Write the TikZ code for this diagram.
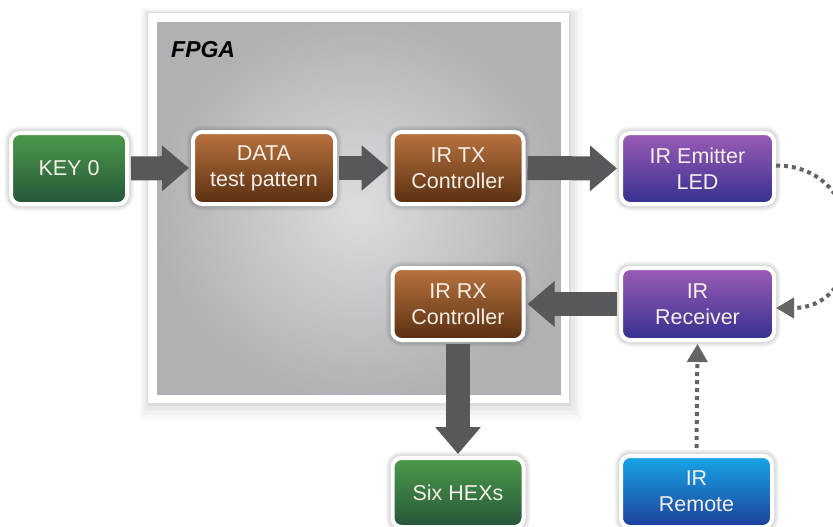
\documentclass[tikz,border=0pt]{standalone}
\usepackage{fontspec}
\setmainfont{Liberation Sans}
\usetikzlibrary{arrows.meta}

\definecolor{grntop}{HTML}{4C9A4A}
\definecolor{grnbot}{HTML}{26563A}
\definecolor{brntop}{HTML}{BA743F}
\definecolor{brnbot}{HTML}{582E10}
\definecolor{purtop}{HTML}{9C5CB6}
\definecolor{purmid}{HTML}{6A2C9C}
\definecolor{purbot}{HTML}{35308F}
\definecolor{blutop}{HTML}{18A6E6}
\definecolor{blubot}{HTML}{1C3F9C}
\definecolor{boxtext}{HTML}{F4EFE8}
\definecolor{arrgray}{HTML}{58585A}
\definecolor{dotgray}{HTML}{646464}
\definecolor{fpgain}{HTML}{DDDCDE}
\definecolor{fpgaout}{HTML}{B1B0B5}

\begin{document}
\begin{tikzpicture}[x=1pt,y=-1pt,
  halo/.style={preaction={draw=black,opacity=#1,line width=13pt},
    preaction={draw=black,opacity=#1,line width=9.5pt},
    preaction={draw=black,opacity=#1,line width=6.5pt}},
  blk/.style={draw=white,line width=4pt,rounded corners=9pt,inner sep=0pt,
    align=center,text=boxtext,font=\fontsize{21.5}{26}\selectfont,halo=.05},
  grn/.style={blk,top color=grntop,bottom color=grnbot},
  brn/.style={blk,top color=brntop,bottom color=brnbot},
  pur/.style={blk,top color=purtop,middle color=purmid,bottom color=purbot},
  blu/.style={blk,top color=blutop,bottom color=blubot},
  fat/.style={draw=arrgray,line width=24pt,-{Triangle[width=44pt,length=27pt]},
    shorten <=2pt,shorten >=2pt},
  dots/.style={draw=dotgray,line width=4pt,dash pattern=on 4pt off 4pt,
    -{Triangle[width=20pt,length=18pt]}}]
  \useasboundingbox (0,0) rectangle (833,527);

  % FPGA frame
  \node[draw=white,line width=8.5pt,inner sep=0pt,shading=radial,
    inner color=fpgain,outer color=fpgaout,
    minimum width=412.5pt,minimum height=381.5pt,
    preaction={draw=black,opacity=.025,line width=30pt,transform canvas={xshift=2pt,yshift=-6pt}},
    preaction={draw=black,opacity=.03,line width=23pt,transform canvas={xshift=1.5pt,yshift=-4pt}},
    preaction={draw=black,opacity=.04,line width=17pt,transform canvas={xshift=1pt,yshift=-2.5pt}},
    preaction={draw=black,opacity=.05,line width=12pt,transform canvas={yshift=-1pt}}] (fpga) at (358.75,208.25) {};
  \node[anchor=base west,inner sep=0pt,font=\bfseries\itshape\fontsize{23}{27}\selectfont] (lbl) at (171,58) {FPGA};

  % blocks
  \node[grn,minimum width=116pt,minimum height=71pt] (key) at (69,168.5) {KEY 0};
  \node[brn,minimum width=142pt,minimum height=72pt] (data) at (264,168) {DATA\\test pattern};
  \node[brn,minimum width=131pt,minimum height=72pt] (tx) at (458,168) {IR TX\\Controller};
  \node[pur,minimum width=153pt,minimum height=71pt] (led) at (697.5,168.5) {IR Emitter\\LED};
  \node[pur,minimum width=153pt,minimum height=72pt] (rcv) at (697.5,304) {IR\\Receiver};
  \node[brn,minimum width=131pt,minimum height=72pt] (rx) at (458,304) {IR RX\\Controller};
  \node[grn,minimum width=131pt,minimum height=69pt] (hex) at (458,492.5) {Six HEXs};
  \node[blu,minimum width=151pt,minimum height=71pt] (remote) at (696.5,491.5) {IR\\Remote};

  % data paths
  \draw[fat] (key.east) -- (data.west);
  \draw[fat] (data.east) -- (tx.west);
  \draw[fat] (tx.east) -- (led.west);
  \draw[fat] (rcv.west) -- (rx.east);
  \draw[fat] (rx.south) -- (hex.north);

  % infrared link
  \draw[dots] ([yshift=3pt]led.east) .. controls +(95,0) and +(95,0) .. ([yshift=-4pt]rcv.east);
  \draw[dots] ([yshift=6pt]remote.north) -- ([yshift=-2pt]rcv.south);
\end{tikzpicture}
\end{document}
